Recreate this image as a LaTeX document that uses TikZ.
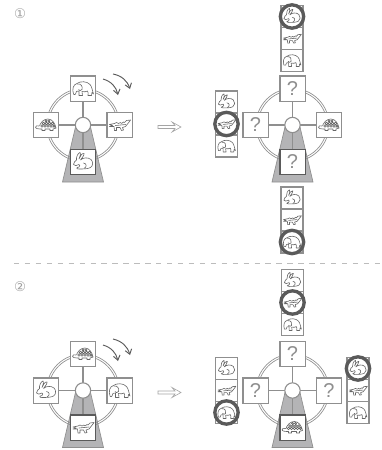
\documentclass[tikz,border=0pt]{standalone}
\usepackage{fontspec}
\setmainfont{Liberation Sans}
\newfontfamily\symf{DejaVu Sans}
\usetikzlibrary{arrows.meta}
\definecolor{linegray}{HTML}{8F8F8F}
\definecolor{darkring}{HTML}{5A5A5A}
\definecolor{standgray}{HTML}{B4B4B6}
\definecolor{iconline}{HTML}{666666}
\tikzset{
  x=0.75pt,y=-0.75pt,
  iconstroke/.style={draw=iconline,line width=0.45pt,line join=round,line cap=round},
  cellbox/.style={draw=linegray,fill=white,line width=0.8pt,minimum size=16.5pt,inner sep=0pt,outer sep=0pt},
  seatbox/.style={draw=linegray,fill=white,line width=1pt,minimum size=19pt,inner sep=0pt,outer sep=0pt,font=\fontsize{15}{15}\selectfont,text=linegray},
  hitring/.style={draw=darkring,line width=2.5pt,minimum size=17.5pt,circle,inner sep=0pt},
  spoke/.style={draw=linegray,line width=0.9pt},
  rim/.style={draw=linegray,line width=0.5pt},
  turnarrow/.style={draw=darkring,line width=0.7pt,-{Straight Barb[length=3.5pt,width=5pt]}},
  hollow/.style={draw=linegray!80,line width=0.45pt,fill=white},
  numlabel/.style={font=\symf\fontsize{10}{10}\selectfont,text=linegray!85},
  sep/.style={draw=linegray!60,line width=0.6pt,dash pattern=on 4pt off 4.2pt},
  pics/elephant/.style={code={
    \path[iconstroke,fill=white,scale=#1] (-9.5,5.5) .. controls (-11,1) and (-10,-4) .. (-6,-5) .. controls (-3,-7.5) and (4,-7.5) .. (7,-4) .. controls (9,-2) and (9.5,3) .. (10.5,5.5) -- (9,4) -- (8.5,7) -- (5,7) .. controls (5.5,5) and (5,3.5) .. (4.5,2.5) .. controls (3,3.5) and (1,3.5) .. (-1,3) -- (-0.5,7) -- (-4,7) -- (-4,2.5) .. controls (-6,2) and (-7.5,3) .. (-7.5,5.5) .. controls (-8,6.5) and (-9,6.5) .. (-9.5,5.5) -- cycle;
    \path[iconstroke,scale=#1] (-5.5,-4.5) .. controls (-2,-5) and (0,-2) .. (-1,1) .. controls (-2,2.5) and (-4,2.5) .. (-4.5,1);
  }},
  pics/rabbit/.style={code={
    \path[iconstroke,fill=white,scale=#1] (-9.5,2.5) .. controls (-9,0) and (-8,-1) .. (-6.5,-2) .. controls (-7,-5) and (-5,-9) .. (-3,-9.5) .. controls (-2,-8.5) and (-3,-5) .. (-4,-3) .. controls (-3,-6) and (-1,-9) .. (1,-8.5) .. controls (1.5,-7) and (-1,-4) .. (-2.5,-2) .. controls (0,-4.5) and (5,-5) .. (8,-2.5) .. controls (10.5,0) and (10,4) .. (7.5,5.5) .. controls (5,7) and (0,7) .. (-4,7) .. controls (-7,7) and (-7,5.5) .. (-4,5) .. controls (-3,4) and (-3,3) .. (-4,2.5) .. controls (-6,4) and (-9,4) .. (-9.5,2.5) -- cycle;
    \path[iconstroke,scale=#1] (1,6.5) .. controls (4,5) and (4,1.5) .. (0.5,1);
  }},
  pics/croc/.style={code={
    \path[iconstroke,fill=white,scale=#1] (-10,-0.5) -- (-5,-1.5) -- (-3,-2.5) -- (-1,-1.5) -- (1,-2.5) -- (2,-1.5) -- (4,-3) -- (5,-2.5) -- (7,-4.5) -- (11,-5) -- (10,-3.5) -- (8,-1) -- (6,1.5) -- (3,2.5) -- (4,5) -- (2,5.5) -- (0.5,2.5) -- (-3,2.5) -- (-3,5.5) -- (-5,5.5) -- (-5.5,1.5) -- (-10,1.5) -- (-7,0.5) -- cycle;
    \path[iconstroke,scale=#1] (-4,0.5) -- (6,-0.5);
  }},
  pics/turtle/.style={code={
    \path[iconstroke,fill=white,scale=#1] (-7,3) .. controls (-6,-3) and (-2,-6) .. (2,-6) .. controls (6,-6) and (9,-2) .. (10,3) -- cycle;
    \path[iconstroke,fill=white,scale=#1] (-7,1) .. controls (-9,0) and (-10.5,1) .. (-10.5,2.5) .. controls (-10.5,4) and (-8,3.5) .. (-6,4) -- (-4,4) -- (-4,5.5) -- (-1,5.5) -- (-1,4) -- (4,4) -- (4,5.5) -- (7,5.5) -- (7,4) -- (10,3);
    \path[iconstroke,fill=white,scale=#1] (-4,1) circle (1.3) (-1,1) circle (1.3) (2,1) circle (1.3) (5,1) circle (1.3) (8,1) circle (1.1) (-2.5,-1.6) circle (1.3) (0.5,-1.6) circle (1.3) (3.5,-1.6) circle (1.3) (6.5,-1.6) circle (1.3) (0,-4.2) circle (1.1) (3,-4.2) circle (1.1);
  }}
}
\newcommand{\wheel}[2]{%
  \begin{scope}[shift={(#1,#2)}]
    \path[fill=standgray,draw=linegray,line width=0.5pt] (-7.5,2) -- (7.5,2) -- (20.5,57) -- (-20.5,57) -- cycle;
    \draw[rim] (0,0) circle (34.5);
    \draw[rim] (0,0) circle (36.5);
    \draw[spoke] (0,-37) -- (0,37);
    \draw[spoke] (-37,0) -- (37,0);
  \end{scope}}
\begin{document}
\begin{tikzpicture}
\useasboundingbox (0,0) rectangle (382,450);
\fill[white] (0,0) rectangle (382,450);
% panel 1 left
\wheel{83}{125}
\node[circle,draw=linegray,fill=white,line width=0.8pt,minimum size=11.5pt,inner sep=0pt] (hubA) at (83,125) {};
\node[seatbox] (a1) at (83,88.5) {}; \pic at (a1.center) {elephant=1};
\node[seatbox] (a2) at (46,125) {}; \pic at (a2.center) {turtle=1};
\node[seatbox] (a3) at (119.5,125) {}; \pic at (a3.center) {croc=1};
\node[seatbox,draw=darkring] (a4) at (83,162) {}; \pic at (a4.center) {rabbit=1};
% panel 1 right
\wheel{292.5}{125}
\node[circle,draw=linegray,fill=white,line width=0.8pt,minimum size=11.5pt,inner sep=0pt] (hubB) at (292.5,125) {};
\node[seatbox] (b1) at (292.5,88.5) {?};
\node[seatbox] (b2) at (255.5,125) {?};
\node[seatbox] (b3) at (329,125) {}; \pic at (b3.center) {turtle=1};
\node[seatbox,draw=darkring] (b4) at (292.5,162) {?};
% stacks panel 1
\node[cellbox] (c1) at (292,16.5) {}; \pic at (c1.center) {rabbit=0.85};
\node[cellbox] (c2) at (292,38.5) {}; \pic at (c2.center) {croc=0.85};
\node[cellbox] (c3) at (292,60.5) {}; \pic at (c3.center) {elephant=0.85};
\node[hitring] (c4) at (292,16.5) {};
\node[cellbox] (d1) at (226.5,102) {}; \pic at (d1.center) {rabbit=0.85};
\node[cellbox] (d2) at (226.5,124) {}; \pic at (d2.center) {croc=0.85};
\node[cellbox] (d3) at (226.5,146) {}; \pic at (d3.center) {elephant=0.85};
\node[hitring] (d4) at (226.5,124) {};
\node[cellbox] (e1) at (292,198) {}; \pic at (e1.center) {rabbit=0.85};
\node[cellbox] (e2) at (292,220) {}; \pic at (e2.center) {croc=0.85};
\node[cellbox] (e3) at (292,242) {}; \pic at (e3.center) {elephant=0.85};
\node[hitring] (e4) at (292,242) {};
% panel 2 left
\wheel{83}{390.5}
\node[circle,draw=linegray,fill=white,line width=0.8pt,minimum size=11.5pt,inner sep=0pt] (hubC) at (83,390.5) {};
\node[seatbox] (f1) at (83,354) {}; \pic at (f1.center) {turtle=1};
\node[seatbox] (f2) at (46,390.5) {}; \pic at (f2.center) {rabbit=1};
\node[seatbox] (f3) at (119.5,390.5) {}; \pic at (f3.center) {elephant=1};
\node[seatbox,draw=darkring] (f4) at (83,427.5) {}; \pic at (f4.center) {croc=1};
% panel 2 right
\wheel{292.5}{390.5}
\node[circle,draw=linegray,fill=white,line width=0.8pt,minimum size=11.5pt,inner sep=0pt] (hubD) at (292.5,390.5) {};
\node[seatbox] (g1) at (292.5,354) {?};
\node[seatbox] (g2) at (255.5,390.5) {?};
\node[seatbox] (g3) at (329,390.5) {?};
\node[seatbox,draw=darkring] (g4) at (292.5,427.5) {}; \pic at (g4.center) {turtle=1};
% stacks panel 2
\node[cellbox] (h1) at (292.5,280.5) {}; \pic at (h1.center) {rabbit=0.85};
\node[cellbox] (h2) at (292.5,302.5) {}; \pic at (h2.center) {croc=0.85};
\node[cellbox] (h3) at (292.5,324.5) {}; \pic at (h3.center) {elephant=0.85};
\node[hitring] (h4) at (292.5,302.5) {};
\node[cellbox] (i1) at (226.5,368.5) {}; \pic at (i1.center) {rabbit=0.85};
\node[cellbox] (i2) at (226.5,390.5) {}; \pic at (i2.center) {croc=0.85};
\node[cellbox] (i3) at (226.5,412.5) {}; \pic at (i3.center) {elephant=0.85};
\node[hitring] (i4) at (226.5,412.5) {};
\node[cellbox] (j1) at (358,368.5) {}; \pic at (j1.center) {rabbit=0.85};
\node[cellbox] (j2) at (358,390.5) {}; \pic at (j2.center) {croc=0.85};
\node[cellbox] (j3) at (358,412.5) {}; \pic at (j3.center) {elephant=0.85};
\node[hitring] (j4) at (358,368.5) {};
% turn arrows
\coordinate (t1) at (103,79); \coordinate (t2) at (118,95);
\coordinate (t3) at (113,74); \coordinate (t4) at (130,89);
\draw[turnarrow] (t1) to[bend left=30] (t2);
\draw[turnarrow] (t3) to[bend left=30] (t4);
\coordinate (t5) at (103,345); \coordinate (t6) at (118,361);
\coordinate (t7) at (113,339); \coordinate (t8) at (130,355);
\draw[turnarrow] (t5) to[bend left=30] (t6);
\draw[turnarrow] (t7) to[bend left=30] (t8);
% hollow arrows
\path[hollow] (158,125.5) -- (175,125.5) -- (172,122) -- (181,127) -- (172,132) -- (175,128.5) -- (158,128.5) -- cycle;
\path[hollow] (158,391) -- (175,391) -- (172,387.5) -- (181,392.5) -- (172,397.5) -- (175,394) -- (158,394) -- cycle;
% separator
\coordinate (s1) at (14,263.5); \coordinate (s2) at (382,263.5);
\draw[sep] (s1) -- (s2);
\node[numlabel] (n1) at (20,14) {①};
\node[numlabel] (n2) at (20,287) {②};
\end{tikzpicture}
\end{document}
